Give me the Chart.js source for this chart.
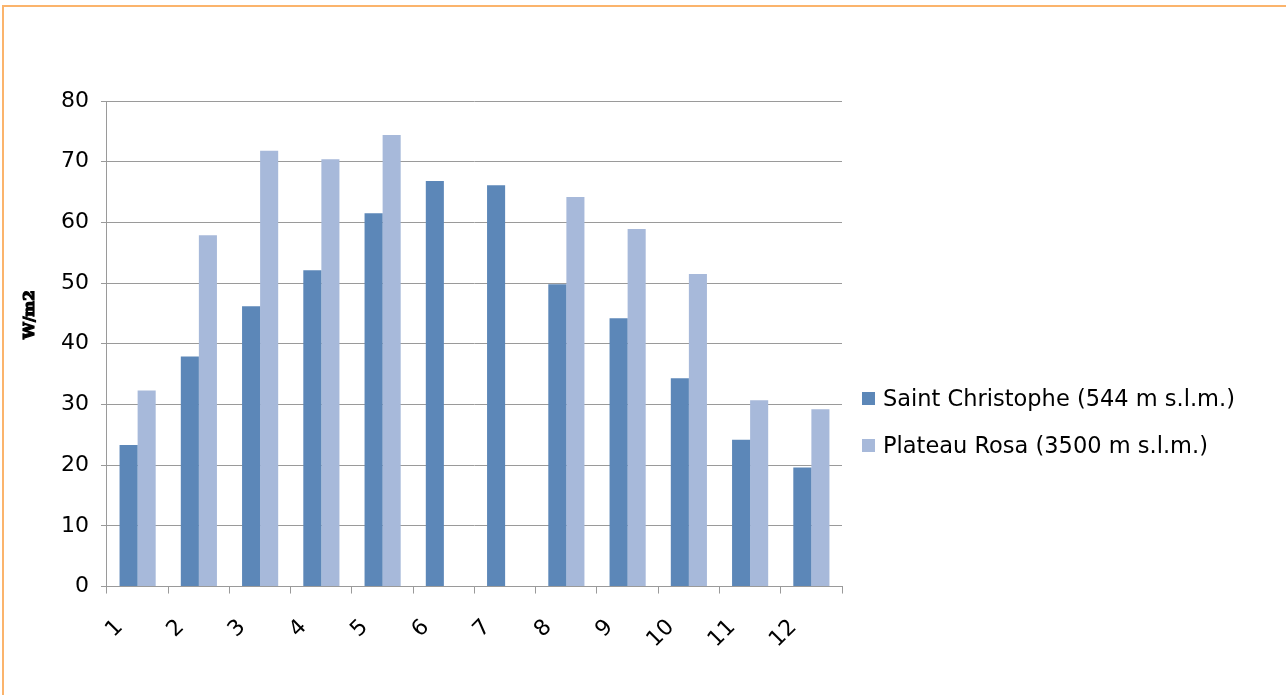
<!DOCTYPE html>
<html>
<head>
<meta charset="utf-8">
<script src="https://cdn.jsdelivr.net/npm/chart.js@4/dist/chart.umd.min.js"></script>
<style>
  html, body { margin: 0; padding: 0; background: #ffffff; overflow: hidden; }
  #frame {
    position: absolute; left: 2px; top: 5px; width: 1300px; height: 720px;
    border-left: 2px solid #fbb46c; border-top: 2px solid #fbb46c;
    box-sizing: border-box;
  }
  #wrap { position: absolute; left: 0; top: 0; width: 1286px; height: 695px; }
  #legend {
    position: absolute; left: 862px; top: 382px;
    font-family: "DejaVu Sans", Verdana, sans-serif; font-size: 22.5px; color: #000;
  }
  #legend .item { display: flex; align-items: center; height: 32px; margin-bottom: 15px; white-space: nowrap; }
  #legend .box { width: 13px; height: 13px; margin-right: 8px; }
</style>
</head>
<body>
<div id="frame"></div>
<div id="wrap"><canvas id="chart" width="1286" height="695"></canvas></div>
<div id="legend"></div>
<script>
// Monthly mean radiation, W/m2
const months = ['1', '2', '3', '4', '5', '6', '7', '8', '9', '10', '11', '12'];
const saintChristophe = [23.3, 37.9, 46.2, 52.1, 61.5, 66.8, 66.1, 49.8, 44.2, 34.3, 24.2, 19.6];
const plateauRosa = [32.3, 57.9, 71.8, 70.4, 74.4, null, null, 64.2, 58.9, 51.5, 30.7, 29.2];
const seriesNames = ['Saint Christophe (544 m s.l.m.)', 'Plateau Rosa (3500 m s.l.m.)'];
const yTicks = [0, 10, 20, 30, 40, 50, 60, 70, 80];
const yTitle = 'W/m2';

const tickFont = { family: '"DejaVu Sans", Verdana, sans-serif', size: 22 };

// Builds the side legend from the chart's own datasets
const htmlLegend = {
  id: 'htmlLegend',
  afterUpdate(chart) {
    const el = document.getElementById('legend');
    el.innerHTML = '';
    chart.data.datasets.forEach(ds => {
      const item = document.createElement('div');
      item.className = 'item';
      const box = document.createElement('span');
      box.className = 'box';
      box.style.background = ds.backgroundColor;
      const txt = document.createElement('span');
      txt.textContent = ds.label;
      item.appendChild(box);
      item.appendChild(txt);
      el.appendChild(item);
    });
  }
};

// Vertical value-axis caption, sitting a little above the axis middle
const axisCaption = {
  id: 'axisCaption',
  afterDraw(chart) {
    const { ctx, chartArea } = chart;
    const cy = chartArea.top + (chartArea.bottom - chartArea.top) * 0.44;
    ctx.save();
    ctx.translate(30, cy);
    ctx.rotate(-Math.PI / 2);
    ctx.font = 'bold 15px "DejaVu Serif", "Liberation Serif", serif';
    ctx.fillStyle = '#000';
    ctx.strokeStyle = '#000';
    ctx.lineWidth = 1.2;
    ctx.textAlign = 'center';
    ctx.textBaseline = 'middle';
    ctx.fillText(yTitle, 0, 0);
    ctx.strokeText(yTitle, 0, 0);
    ctx.restore();
  }
};

new Chart(document.getElementById('chart'), {
  type: 'bar',
  data: {
    labels: months,
    datasets: [
      { label: seriesNames[0], data: saintChristophe, backgroundColor: '#5c87b8', borderWidth: 0 },
      { label: seriesNames[1], data: plateauRosa, backgroundColor: '#a7b9da', borderWidth: 0 }
    ]
  },
  options: {
    responsive: false,
    animation: false,
    events: [],
    layout: { padding: { top: 101, right: 444, bottom: 21, left: 49 } },
    datasets: { bar: { categoryPercentage: 0.59, barPercentage: 1.0 } },
    plugins: {
      legend: { display: false },
      tooltip: { enabled: false }
    },
    scales: {
      x: {
        grid: {
          offset: true, drawOnChartArea: false, drawTicks: true, tickLength: 7,
          color: '#9a9a9a', lineWidth: 1
        },
        border: { color: '#9a9a9a', width: 1 },
        ticks: {
          color: '#000', font: tickFont, minRotation: 45, maxRotation: 45,
          padding: 21, labelOffset: -18
        }
      },
      y: {
        min: 0, max: 80,
        afterBuildTicks(axis) { axis.ticks = yTicks.map(v => ({ value: v })); },
        grid: { color: '#9a9a9a', lineWidth: 1, drawTicks: true, tickLength: 6 },
        border: { color: '#9a9a9a', width: 1 },
        ticks: { color: '#000', font: tickFont, padding: 12 }
      }
    }
  },
  plugins: [htmlLegend, axisCaption]
});
</script>
</body>
</html>
